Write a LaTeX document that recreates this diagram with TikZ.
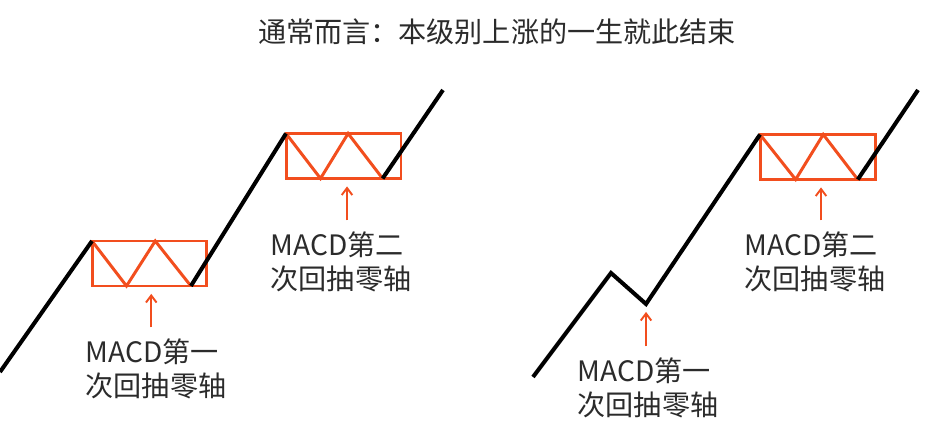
\documentclass[tikz,border=0pt]{standalone}
\usepackage{fontspec}
\setmainfont{Noto Sans CJK SC}
\usetikzlibrary{arrows.meta,calc}
\definecolor{zoneorange}{HTML}{F24E1E}
\definecolor{labelgray}{HTML}{2B2B2B}

\begin{document}
\begin{tikzpicture}[x=0.02cm,y=-0.02cm,
  every node/.style={font=\fontsize{16}{19.5}\selectfont,text=labelgray},
  trend/.style={line width=2.3pt,black,line join=miter},
  zone/.style={draw=zoneorange,line width=1.7pt,inner sep=0pt,outer sep=0pt,minimum width=2.3cm,minimum height=0.9cm},
  zig/.style={zoneorange,line width=1.7pt,line join=miter},
  pointer/.style={-{Straight Barb[length=4pt,width=6pt]},zoneorange,line width=1.1pt,shorten >=4.5pt,shorten <=3pt}]
  \useasboundingbox (0,0) rectangle (928,438);
  \node (title) at (497,32) {通常而言：本级别上涨的一生就此结束};
  % left: two pullbacks inside the zones
  \node[zone] (box1) at (149.5,263.5) {};
  \node[zone] (box2) at (343.5,156) {};
  \draw[zig] (box1.north west) -- ($(box1.south west)!0.3!(box1.south east)$) -- ($(box1.north west)!0.55!(box1.north east)$) -- ($(box1.south west)!0.86!(box1.south east)$) coordinate (low1);
  \draw[zig] (box2.north west) -- ($(box2.south west)!0.3!(box2.south east)$) -- ($(box2.north west)!0.54!(box2.north east)$) -- ($(box2.south west)!0.84!(box2.south east)$) coordinate (low2);
  \coordinate (startL) at (0,372);
  \coordinate (endL) at (443,90);
  \draw[trend] (startL) -- (box1.north west);
  \draw[trend] (low1) -- (box2.north west);
  \draw[trend] (low2) -- (endL);
  \node[align=left] (lab1) at (156,369) {MACD第一\\次回抽零轴};
  \node[align=left] (lab2) at (341,262) {MACD第二\\次回抽零轴};
  \draw[pointer] ([xshift=1pt]box1.south |- lab1.north) -- ([xshift=1pt]box1.south);
  \draw[pointer] ([xshift=2pt]box2.south |- lab2.north) -- ([xshift=2pt]box2.south);
  % right: first pullback below the zone
  \node[zone] (box3) at (817.5,157) {};
  \draw[zig] (box3.north west) -- ($(box3.south west)!0.31!(box3.south east)$) -- ($(box3.north west)!0.55!(box3.north east)$) -- ($(box3.south west)!0.85!(box3.south east)$) coordinate (low3);
  \coordinate (startR) at (533,377);
  \coordinate (peakR) at (611,273);
  \coordinate (dipR) at (646,304);
  \coordinate (endR) at (918,90);
  \draw[trend] (startR) -- (peakR) -- (dipR) -- (box3.north west);
  \draw[trend] (low3) -- (endR);
  \node[align=left] (lab3) at (648,388) {MACD第一\\次回抽零轴};
  \node[align=left] (lab4) at (815,262) {MACD第二\\次回抽零轴};
  \draw[pointer] (dipR |- lab3.north) -- (dipR);
  \draw[pointer] ([xshift=2pt]box3.south |- lab4.north) -- ([xshift=2pt]box3.south);
\end{tikzpicture}
\end{document}
